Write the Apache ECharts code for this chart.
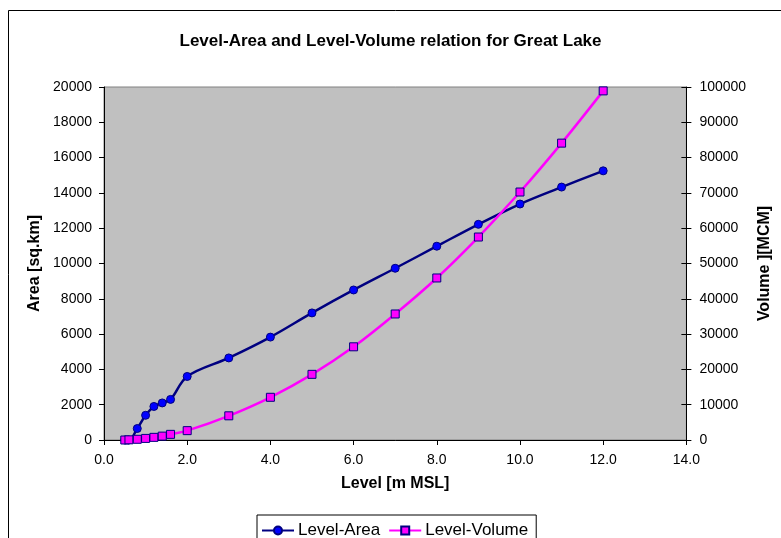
<!DOCTYPE html>
<html>
<head>
<meta charset="utf-8">
<script src="https://cdn.jsdelivr.net/npm/echarts@6/dist/echarts.min.js"></script>
<style>
html,body{margin:0;padding:0;background:#fff;}
#main{width:781px;height:538px;}
</style>
</head>
<body>
<div id="main"></div>
<script>
//水位
var levels = [0.5, 0.6, 0.8, 1.0, 1.2, 1.4, 1.6, 2.0, 3.0, 4.0, 5.0, 6.0, 7.0, 8.0, 9.0, 10.0, 11.0, 12.0];
//面积 sq.km
var areaValues = [0, 0, 650, 1400, 1900, 2100, 2300, 3600, 4650, 5830, 7200, 8500, 9730, 10980, 12220, 13370, 14330, 15250];
//库容 MCM
var volumeValues = [0, 50, 200, 450, 750, 1100, 1600, 2650, 6850, 12100, 18600, 26400, 35700, 45900, 57500, 70250, 84100, 98900];
var seriesNames = ['Level-Area', 'Level-Volume'];

function pairs(xs, ys) {
    var out = [];
    for (var i = 0; i < xs.length; i++) {
        out.push([xs[i], ys[i]]);
    }
    return out;
}
function plain(v) {
    return String(v);
}

var font = 'Liberation Sans, Arial, sans-serif';
var myChart = echarts.init(document.getElementById('main'));

var option = {
    backgroundColor: '#fff',
    animation: false,
    textStyle: {fontFamily: font, color: '#000'},
    title: {
        text: 'Level-Area and Level-Volume relation for Great Lake',
        left: 'center',
        top: 28,
        textStyle: {fontFamily: font, fontSize: 17, fontWeight: 'bold', color: '#000'}
    },
    graphic: [
        {
            type: 'rect',
            shape: {x: 8.5, y: 10.5, width: 900, height: 700},
            style: {fill: null, stroke: '#000', lineWidth: 1},
            z: 100
        }
    ],
    legend: {
        data: seriesNames,
        left: 257,
        top: 515,
        orient: 'horizontal',
        padding: [7, 8, 10, 4],
        itemWidth: 32,
        itemHeight: 10,
        itemGap: 8,
        borderColor: '#000',
        borderWidth: 1,
        backgroundColor: '#fff',
        textStyle: {fontFamily: font, fontSize: 17, color: '#000', padding: [0, 0, 0, -1]}
    },
    grid: {
        left: 104,
        right: 93,
        top: 87,
        bottom: 98,
        show: true,
        backgroundColor: '#C0C0C0',
        borderColor: '#808080',
        borderWidth: 1
    },
    xAxis: {
        type: 'value',
        min: 0,
        max: 14,
        interval: 2,
        name: 'Level [m MSL]',
        nameLocation: 'middle',
        nameGap: 36,
        nameTextStyle: {fontFamily: font, fontSize: 16, fontWeight: 'bold', color: '#000'},
        axisLine: {lineStyle: {color: '#000', width: 1}},
        axisTick: {length: 5, lineStyle: {color: '#000'}},
        axisLabel: {
            fontFamily: font, fontSize: 14, color: '#000', margin: 13,
            formatter: function (v) { return v.toFixed(1); }
        },
        splitLine: {show: false}
    },
    yAxis: [
        {
            type: 'value',
            position: 'left',
            min: 0,
            max: 20000,
            interval: 2000,
            name: 'Area [sq.km]',
            nameLocation: 'middle',
            nameGap: 57,
            nameTextStyle: {fontFamily: font, fontSize: 16, fontWeight: 'bold', color: '#000'},
            axisLine: {show: true, lineStyle: {color: '#000', width: 1}},
            axisTick: {show: true, length: 5, lineStyle: {color: '#000'}},
            axisLabel: {fontFamily: font, fontSize: 14, color: '#000', margin: 12, formatter: plain},
            splitLine: {show: false}
        },
        {
            type: 'value',
            position: 'right',
            min: 0,
            max: 100000,
            interval: 10000,
            name: 'Volume ][MCM]',
            nameLocation: 'middle',
            nameGap: 70,
            nameRotate: 90,
            nameTextStyle: {fontFamily: font, fontSize: 16, fontWeight: 'bold', color: '#000'},
            axisLine: {show: true, lineStyle: {color: '#000', width: 1}},
            axisTick: {show: true, length: 5, lineStyle: {color: '#000'}},
            axisLabel: {fontFamily: font, fontSize: 14, color: '#000', margin: 13, formatter: plain},
            splitLine: {show: false}
        },
        {
            //右轴内侧刻度
            type: 'value',
            position: 'right',
            min: 0,
            max: 100000,
            interval: 10000,
            axisLine: {show: false},
            axisTick: {show: true, inside: true, length: 5, lineStyle: {color: '#000'}},
            axisLabel: {show: false},
            splitLine: {show: false}
        }
    ],
    series: [
        {
            name: seriesNames[0],
            type: 'line',
            yAxisIndex: 0,
            smooth: 0.35,
            data: pairs(levels, areaValues),
            symbol: 'circle',
            symbolSize: 8,
            lineStyle: {color: '#000080', width: 2.5},
            itemStyle: {color: '#0000FF', borderColor: '#000080', borderWidth: 1}
        },
        {
            name: seriesNames[1],
            type: 'line',
            yAxisIndex: 1,
            smooth: 0.35,
            data: pairs(levels, volumeValues),
            symbol: 'rect',
            symbolSize: 8,
            lineStyle: {color: '#FF00FF', width: 2.5},
            itemStyle: {color: '#FF00FF', borderColor: '#000080', borderWidth: 1}
        }
    ]
};
myChart.setOption(option);
</script>
</body>
</html>
